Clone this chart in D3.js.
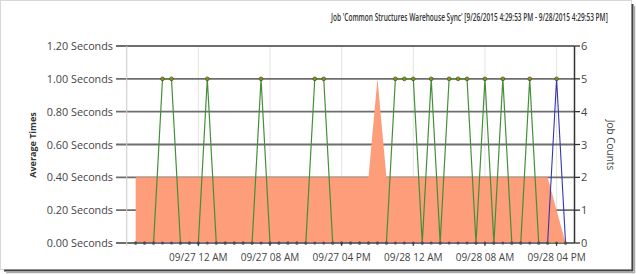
<!DOCTYPE html>
<html><head><meta charset="utf-8">
<script src="https://cdn.jsdelivr.net/npm/d3@7"></script>
<style>
body{margin:0;background:#fff;}
svg{display:block;}
text{font-family:"Open Sans","Noto Sans",sans-serif;}
</style></head>
<body><svg id="c" width="636" height="274"></svg>
<script>
// ---- data ----
const titleText = "Job 'Common Structures Warehouse Sync' [9/26/2015 4:29:53 PM - 9/28/2015 4:29:53 PM]";
const firstHour = new Date(2015, 8, 26, 17);
const lastHour = new Date(2015, 8, 28, 17);
const hours = d3.timeHour.range(firstHour, d3.timeHour.offset(lastHour, 1)); // 49 hourly categories
// Average time (seconds) – green series
const avgTimeGreen = [0,0,0,1,1,0,0,0,1,0, 0,0,0,0,1,0,0,0,0,0, 1,1,0,0,0,0,0,0,0,1, 1,1,0,1,0,1,1,1,0,1, 0,1,0,0,1,0,0,0,0];
// Average time (seconds) – blue series
const avgTimeBlue  = [0,0,0,0,0,0,0,0,0,0, 0,0,0,0,0,0,0,0,0,0, 0,0,0,0,0,0,0,0,0,0, 0,0,0,0,0,0,0,0,0,0, 0,0,0,0,0,0,0,1,0];
// Job counts – area
const jobCounts    = [2,2,2,2,2,2,2,2,2,2, 2,2,2,2,2,2,2,2,2,2, 2,2,2,2,2,2,2,5,2,2, 2,2,2,2,2,2,2,2,2,2, 2,2,2,2,2,2,2,1,0];
const leftTicks = [0, 0.2, 0.4, 0.6, 0.8, 1.0, 1.2];
const rightTicks = [0, 1, 2, 3, 4, 5, 6];
const xTickTimes = [new Date(2015,8,26,16), new Date(2015,8,27,0), new Date(2015,8,27,8), new Date(2015,8,27,16), new Date(2015,8,28,0), new Date(2015,8,28,8), new Date(2015,8,28,16)];

// ---- layout ----
const svg = d3.select("#c");
const L = 126.7, R = 574.5, T = 46, B = 243;
const x = d3.scaleTime().domain([new Date(2015,8,26,16), new Date(2015,8,28,18)]).range([L, R]);
const yL = d3.scaleLinear().domain([0, 1.2]).range([B, T]);
const yR = d3.scaleLinear().domain([0, 6]).range([B, T]);

// frame with shadow
svg.append("rect").attr("x",0.5).attr("y",0.5).attr("width",631).attr("height",269).attr("fill","none").attr("stroke","#d8d8d8");
svg.append("line").attr("x1",632.5).attr("x2",632.5).attr("y1",4).attr("y2",271).attr("stroke","#444").attr("stroke-width",2);
svg.append("line").attr("x1",4).attr("x2",633).attr("y1",270.5).attr("y2",270.5).attr("stroke","#444").attr("stroke-width",2);
svg.append("line").attr("x1",634.5).attr("x2",634.5).attr("y1",6).attr("y2",273).attr("stroke","#aaa").attr("stroke-width",1.5);
svg.append("line").attr("x1",6).attr("x2",635).attr("y1",272.5).attr("y2",272.5).attr("stroke","#aaa").attr("stroke-width",1.5);

// title (horizontally condensed to match the reference width)
const tg = svg.append("g");
const tt = tg.append("text").attr("x",0).attr("y",0)
  .attr("font-size",10).attr("font-weight",600).attr("fill","#333").text(titleText);
const natW = tt.node().getComputedTextLength();
tg.attr("transform",`translate(331,21) scale(${277/natW},1)`);

// vertical gridlines
svg.append("g").selectAll("line").data(xTickTimes).join("line")
  .attr("x1",d=>x(d)).attr("x2",d=>x(d)).attr("y1",T).attr("y2",B)
  .attr("stroke","#e4e4e4").attr("stroke-width",1);

// horizontal gridlines (with left ticks)
svg.append("g").selectAll("line").data(leftTicks).join("line")
  .attr("x1",116).attr("x2",R).attr("y1",d=>yL(d)).attr("y2",d=>yL(d))
  .attr("stroke","#6e6e6e").attr("stroke-width",1.8);

// area
const area = d3.area().x((d,i)=>x(hours[i])).y0(B).y1(d=>yR(d));
svg.append("path").datum(jobCounts).attr("d",area).attr("fill","#fd9d79");

// clip for lines
svg.append("clipPath").attr("id","pc").append("rect").attr("x",L).attr("y",T-3).attr("width",R-L).attr("height",B-T+3);

const line = d3.line().x((d,i)=>x(hours[i])).y(d=>yL(d));
svg.append("path").datum(avgTimeGreen).attr("d",line).attr("fill","none")
  .attr("stroke","#428f38").attr("stroke-width",1.2).attr("clip-path","url(#pc)");
svg.append("path").datum(avgTimeBlue).attr("d",line).attr("fill","none")
  .attr("stroke","#3535b0").attr("stroke-width",1.1).attr("clip-path","url(#pc)");

// markers
function markers(data){
  svg.append("g").selectAll("circle").data(data).join("circle")
    .attr("cx",(d,i)=>x(hours[i])).attr("cy",d=>yL(d)).attr("r",d=>d>0?1.9:1.5)
    .attr("fill",d=>d>0?"#8f8f12":"#4f4f4f").attr("stroke",d=>d>0?"#4a4a2a":"none").attr("stroke-width",0.7);
}
markers(avgTimeGreen);
markers(avgTimeBlue);

// left axis light line
svg.append("line").attr("x1",L).attr("x2",L).attr("y1",T).attr("y2",B+3).attr("stroke","#cfcfcf");

// right axis
svg.append("line").attr("x1",R).attr("x2",R).attr("y1",T).attr("y2",B).attr("stroke","#333").attr("stroke-width",1.5);
svg.append("g").selectAll("line").data(rightTicks).join("line")
  .attr("x1",R).attr("x2",580).attr("y1",d=>yR(d)).attr("y2",d=>yR(d)).attr("stroke","#333").attr("stroke-width",1.3);
svg.append("g").selectAll("text").data(rightTicks).join("text")
  .attr("x",581).attr("y",d=>yR(d)+4).attr("font-size",11).attr("fill","#444").text(d=>d);

// left labels
svg.append("g").selectAll("text").data(leftTicks).join("text")
  .attr("x",113).attr("y",d=>yL(d)+4).attr("text-anchor","end").attr("font-size",10.8).attr("fill","#444")
  .text(d=>d3.format(".2f")(d)+" Seconds");

// x ticks & labels
const xLabelTimes = xTickTimes.slice(1);
svg.append("g").selectAll("line").data(xLabelTimes).join("line")
  .attr("x1",d=>x(d)).attr("x2",d=>x(d)).attr("y1",B).attr("y2",B+3).attr("stroke","#333");
const fmt = d3.timeFormat("%m/%d %I %p");
svg.append("g").selectAll("text").data(xLabelTimes).join("text")
  .attr("x",d=>x(d)).attr("y",261).attr("text-anchor","middle").attr("font-size",10).attr("fill","#444")
  .text(d=>fmt(d));

// axis titles
svg.append("text").attr("transform","translate(36,145) rotate(-90)").attr("text-anchor","middle")
  .attr("font-size",9).attr("font-weight","bold").attr("fill","#333").text("Average Times");
svg.append("text").attr("transform","translate(607,145) rotate(90)").attr("text-anchor","middle")
  .attr("font-size",10).attr("fill","#444").text("Job Counts");
</script></body></html>
